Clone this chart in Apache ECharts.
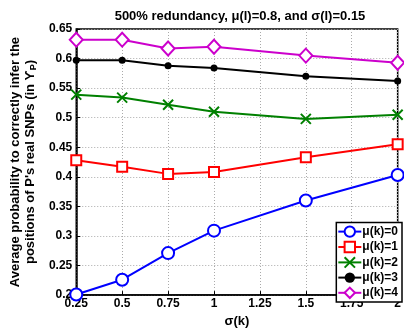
<!DOCTYPE html>
<html><head><meta charset="utf-8">
<script src="https://cdn.jsdelivr.net/npm/echarts@6/dist/echarts.min.js"></script>
<style>html,body{margin:0;padding:0;background:#fff}#c{width:404px;height:333px}</style>
</head><body><div id="c"></div>
<script>
var sigmaK = [0.25, 0.5, 0.75, 1, 1.5, 2];
var mu0 = [0.201, 0.226, 0.271, 0.309, 0.360, 0.403];
var mu1 = [0.428, 0.417, 0.405, 0.408, 0.433, 0.455];
var mu2 = [0.539, 0.534, 0.522, 0.510, 0.498, 0.505];
var mu3 = [0.597, 0.597, 0.588, 0.584, 0.570, 0.562];
var mu4 = [0.632, 0.632, 0.617, 0.620, 0.605, 0.593];
var seriesNames = ['μ(k)=0', 'μ(k)=1', 'μ(k)=2', 'μ(k)=3', 'μ(k)=4'];
var titleText = '500% redundancy, μ(l)=0.8, and σ(l)=0.15';

var FONT = '"Liberation Sans", Arial, Helvetica, sans-serif';
function pairs(ys){ return sigmaK.map(function(x,i){ return [x, ys[i]]; }); }
var X_PATH = 'path://M0,0L10,10M0,10L10,0';

var chart = echarts.init(document.getElementById('c'), null, {renderer:'canvas'});
var lbl = {color:'#000', fontWeight:'bold', fontSize:12, fontFamily:FONT};
chart.setOption({
  animation:false,
  backgroundColor:'#fff',
  title:{text:titleText, left:235, top:5, textAlign:'center',
    textStyle:{fontSize:13, fontWeight:'bold', color:'#000', fontFamily:FONT}},
  grid:{left:68, right:1, top:29, bottom:28, show:true, borderColor:'#000', borderWidth:1.5, backgroundColor:'transparent'},
  legend:{
    orient:'vertical', right:2, bottom:31, itemGap:3, itemWidth:23, itemHeight:13,
    backgroundColor:'#fff', borderColor:'#000', borderWidth:1.5, padding:[3,4,3,1],
    textStyle:{color:'#000', fontWeight:'bold', fontSize:12, fontFamily:FONT, padding:[0,0,0,-4]},
    data:seriesNames
  },
  xAxis:{type:'value', min:0.25, max:2, interval:0.25,
    name:'σ(k)', nameLocation:'middle', nameGap:17,
    nameTextStyle:{color:'#000', fontWeight:'bold', fontSize:13, fontFamily:FONT},
    axisLine:{show:true, lineStyle:{color:'#000', width:1.5}},
    axisTick:{show:true, inside:true, length:4, lineStyle:{color:'#000'}},
    axisLabel:Object.assign({margin:3, formatter:function(v){return String(+v.toFixed(2));}}, lbl),
    splitLine:{show:true, lineStyle:{color:'#aaa', type:[1,2], width:1}}
  },
  yAxis:{type:'value', min:0.2, max:0.65, interval:0.05,
    name:'{a|Average probability to correctly infer the}\n{a|positions of P\'s real SNPs (in ϒ}{s|P}{a|)}',
    nameLocation:'middle', nameGap:29,
    nameTextStyle:{color:'#000', fontWeight:'bold', fontSize:13, fontFamily:FONT, lineHeight:15,
      rich:{a:{fontWeight:'bold', fontSize:13, fontFamily:FONT, color:'#000', lineHeight:15},
            s:{fontWeight:'bold', fontSize:9, fontFamily:FONT, color:'#000', lineHeight:15, padding:[6,0,0,0]}}},
    axisLine:{show:true, lineStyle:{color:'#000', width:1.5}},
    axisTick:{show:true, inside:true, length:4, lineStyle:{color:'#000'}},
    axisLabel:Object.assign({margin:4, formatter:function(v){return String(+v.toFixed(2));}}, lbl),
    splitLine:{show:true, lineStyle:{color:'#aaa', type:[1,2], width:1}}
  },
  series:[
    {name:seriesNames[0], type:'line', data:pairs(mu0), symbol:'emptyCircle', symbolSize:12,
      color:'#0000ff', lineStyle:{width:2}, itemStyle:{borderWidth:2}},
    {name:seriesNames[1], type:'line', data:pairs(mu1), symbol:'emptyRect', symbolSize:10,
      color:'#ff0000', lineStyle:{width:2}, itemStyle:{borderWidth:2}},
    {name:seriesNames[2], type:'line', data:pairs(mu2), symbol:X_PATH, symbolSize:10,
      color:'#008000', lineStyle:{width:2}, itemStyle:{borderColor:'#008000', borderWidth:2}},
    {name:seriesNames[3], type:'line', data:pairs(mu3), symbol:'circle', symbolSize:7,
      color:'#000000', lineStyle:{width:2}},
    {name:seriesNames[4], type:'line', data:pairs(mu4), symbol:'emptyDiamond', symbolSize:[13,14],
      color:'#cc00cc', lineStyle:{width:2}, itemStyle:{borderWidth:2}}
  ]
});
</script></body></html>
